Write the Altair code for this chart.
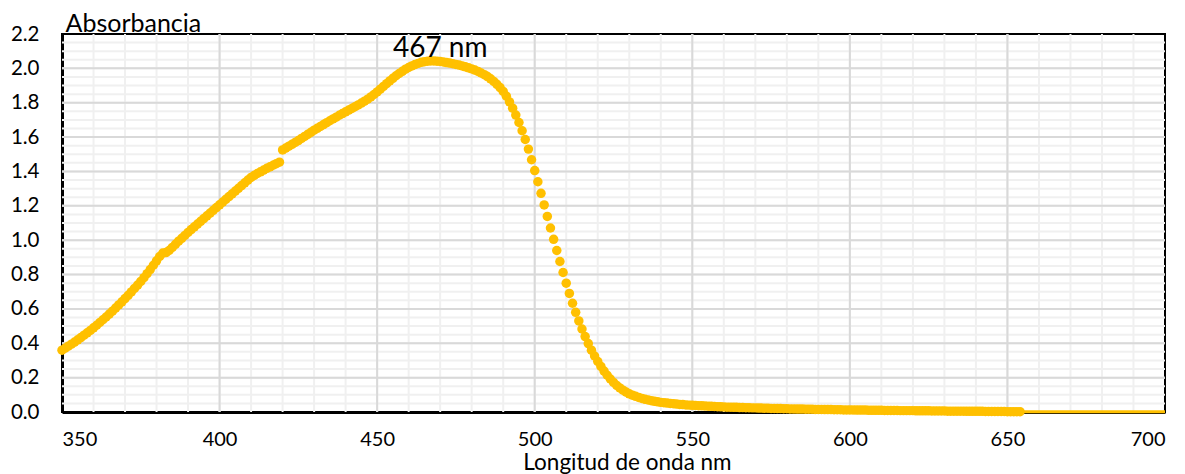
import altair as alt
import pandas as pd

# ---------------- data ----------------
wavelength_nm = list(range(350, 655))
absorbance = [
    0.360, 0.371, 0.383, 0.395, 0.407, 0.420, 0.433, 0.447, 0.461, 0.475,
    0.490, 0.505, 0.521, 0.537, 0.553, 0.570, 0.587, 0.605, 0.623, 0.641,
    0.660, 0.679, 0.699, 0.719, 0.739, 0.760, 0.782, 0.805, 0.829, 0.854,
    0.880, 0.905, 0.925, 0.928, 0.940, 0.958, 0.976, 0.994, 1.011, 1.028,
    1.045, 1.062, 1.078, 1.094, 1.110, 1.126, 1.142, 1.158, 1.174, 1.190,
    1.206, 1.222, 1.238, 1.254, 1.270, 1.286, 1.302, 1.318, 1.334, 1.350,
    1.365, 1.377, 1.388, 1.398, 1.408, 1.418, 1.427, 1.436, 1.445, 1.454,
    1.525, 1.536, 1.547, 1.558, 1.569, 1.580, 1.592, 1.604, 1.616, 1.628,
    1.640, 1.651, 1.662, 1.673, 1.684, 1.695, 1.706, 1.716, 1.727, 1.737,
    1.747, 1.757, 1.767, 1.777, 1.787, 1.798, 1.809, 1.821, 1.834, 1.848,
    1.863, 1.879, 1.895, 1.911, 1.927, 1.942, 1.957, 1.970, 1.983, 1.995,
    2.005, 2.014, 2.022, 2.029, 2.035, 2.039, 2.042, 2.043, 2.043, 2.042,
    2.040, 2.037, 2.034, 2.031, 2.027, 2.023, 2.019, 2.014, 2.009, 2.003,
    1.997, 1.990, 1.982, 1.973, 1.963, 1.952, 1.939, 1.924, 1.907, 1.888,
    1.866, 1.838, 1.805, 1.768, 1.728, 1.685, 1.637, 1.586, 1.530, 1.468,
    1.405, 1.340, 1.273, 1.205, 1.138, 1.071, 1.005, 0.940, 0.876, 0.812,
    0.750, 0.690, 0.633, 0.580, 0.530, 0.483, 0.439, 0.398, 0.360, 0.326,
    0.294, 0.265, 0.238, 0.214, 0.192, 0.172, 0.155, 0.140, 0.127, 0.116,
    0.106, 0.098, 0.091, 0.085, 0.079, 0.074, 0.070, 0.066, 0.062, 0.059,
    0.056, 0.054, 0.052, 0.050, 0.048, 0.046, 0.044, 0.043, 0.041, 0.040,
    0.039, 0.038, 0.037, 0.036, 0.035, 0.034, 0.033, 0.032, 0.031, 0.030,
    0.029, 0.028, 0.028, 0.027, 0.027, 0.026, 0.026, 0.025, 0.025, 0.024,
    0.024, 0.023, 0.023, 0.022, 0.022, 0.021, 0.021, 0.020, 0.020, 0.019,
    0.019, 0.018, 0.018, 0.017, 0.017, 0.017, 0.016, 0.016, 0.016, 0.015,
    0.015, 0.015, 0.014, 0.014, 0.014, 0.013, 0.013, 0.013, 0.012, 0.012,
    0.012, 0.012, 0.011, 0.011, 0.011, 0.011, 0.010, 0.010, 0.010, 0.010,
    0.010, 0.009, 0.009, 0.009, 0.009, 0.009, 0.008, 0.008, 0.008, 0.008,
    0.008, 0.007, 0.007, 0.007, 0.007, 0.007, 0.006, 0.006, 0.006, 0.006,
    0.006, 0.005, 0.005, 0.005, 0.005, 0.005, 0.005, 0.004, 0.004, 0.004,
    0.004, 0.004, 0.004, 0.003, 0.003, 0.003, 0.003, 0.003, 0.003, 0.003,
    0.002, 0.002, 0.002, 0.002, 0.002,
]

tail_nm = [654, 660, 670, 680, 690, 700]
tail_abs = [0.002, 0.002, 0.002, 0.001, 0.001, 0.001]

peak_label = ["467 nm"]
peak_label_nm = [470]
peak_label_abs = [2.11]

x_ticks = [350, 400, 450, 500, 550, 600, 650, 700]
y_ticks = [0.0, 0.2, 0.4, 0.6, 0.8, 1.0, 1.2, 1.4, 1.6, 1.8, 2.0, 2.2]

minor_x = [v for v in range(360, 700, 10)]
major_x = [400, 450, 500, 550, 600, 650]
minor_y = [round(0.05 * i, 2) for i in range(1, 44)]
major_y = [0.2, 0.4, 0.6, 0.8, 1.0, 1.2, 1.4, 1.6, 1.8, 2.0]

# ---------------- frames ----------------
spectrum = pd.DataFrame({"nm": wavelength_nm, "abs": absorbance})
tail = pd.DataFrame({"nm": tail_nm, "abs": tail_abs})
label_df = pd.DataFrame({"nm": peak_label_nm, "abs": peak_label_abs, "txt": peak_label})

FONT = "Lato"
YELLOW = "#FFC000"

xscale = alt.Scale(domain=[350, 700], nice=False, zero=False)
yscale = alt.Scale(domain=[0, 2.2], nice=False, zero=True)

xaxis = alt.Axis(
    values=x_ticks,
    format="d",
    ticks=False,
    grid=False,
    domainColor="black",
    domainWidth=3,
    labelFont=FONT,
    labelFontSize=20,
    labelColor="black",
    labelPadding=17,
    title="Longitud de onda nm",
    titleFont=FONT,
    titleFontSize=22.5,
    titleFontWeight="normal",
    titleColor="black",
    titleAlign="center",
    titleBaseline="alphabetic",
    titleX=565,
    titleY=57.5,
)
yaxis = alt.Axis(
    values=y_ticks,
    format=".1f",
    ticks=False,
    grid=False,
    domainColor="black",
    domainWidth=3,
    labelFont=FONT,
    labelFontSize=20.5,
    labelColor="black",
    labelPadding=23,
    title="Absorbancia",
    titleFont=FONT,
    titleFontSize=25,
    titleFontWeight="normal",
    titleColor="black",
    titleAngle=0,
    titleAlign="left",
    titleBaseline="alphabetic",
    titleX=3,
    titleY=-3,
)

X = alt.X("nm:Q", scale=xscale, axis=xaxis)
Y = alt.Y("abs:Q", scale=yscale, axis=yaxis)

minor_v = alt.Chart(pd.DataFrame({"nm": minor_x})).mark_rule(
    color="#f0f0f0", strokeWidth=2
).encode(x=X)
minor_h = alt.Chart(pd.DataFrame({"abs": minor_y})).mark_rule(
    color="#f0f0f0", strokeWidth=2
).encode(y=Y)
major_v = alt.Chart(pd.DataFrame({"nm": major_x})).mark_rule(
    color="#d9d9d9", strokeWidth=2
).encode(x=X)
major_h = alt.Chart(pd.DataFrame({"abs": major_y})).mark_rule(
    color="#d9d9d9", strokeWidth=2
).encode(y=Y)

tail_line = alt.Chart(tail).mark_line(color=YELLOW, strokeWidth=3).encode(x=X, y=Y)

points = alt.Chart(spectrum).mark_circle(color=YELLOW, size=90, opacity=1).encode(x=X, y=Y)

label = alt.Chart(label_df).mark_text(
    font=FONT, fontSize=28, color="black", align="center", baseline="middle"
).encode(x=X, y=Y, text="txt:N")

chart = (
    alt.layer(minor_v, minor_h, major_v, major_h, tail_line, points, label)
    .properties(
        width=1103,
        height=378,
        autosize=alt.AutoSizeParams(type="none"),
        padding={"left": 62, "top": 34, "right": 20, "bottom": 62},
        background="white",
    )
    .configure_view(stroke="black", strokeWidth=2)
)

chart.save("out.html", embed_options={"renderer": "svg", "actions": False})
